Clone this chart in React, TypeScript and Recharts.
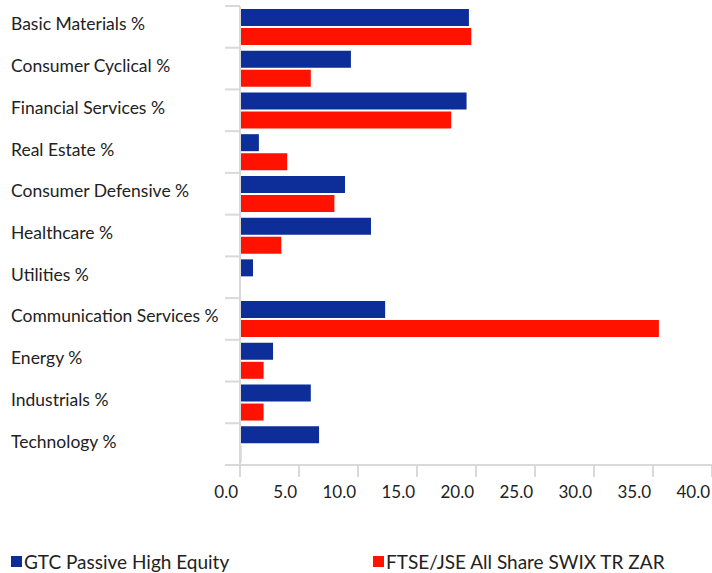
import React from 'react'
import {Bar, BarChart, Legend, XAxis, YAxis} from "recharts";

const sectors = [
  'Basic Materials %', 'Consumer Cyclical %', 'Financial Services %', 'Real Estate %',
  'Consumer Defensive %', 'Healthcare %', 'Utilities %', 'Communication Services %',
  'Energy %', 'Industrials %', 'Technology %',
];
const fundValues = [19.4, 9.4, 19.2, 1.6, 8.9, 11.1, 1.1, 12.3, 2.8, 6.0, 6.7];
const benchValues = [19.6, 6.0, 17.9, 4.0, 8.0, 3.5, 0, 35.5, 2.0, 2.0, 0.1];
const xTicks = [0, 5, 10, 15, 20, 25, 30, 35, 40];

const fundName = 'GTC Passive High Equity';
const benchName = 'FTSE/JSE All Share SWIX TR ZAR';

const data = sectors.map((s, i) => ({name: s, fund: fundValues[i], bench: benchValues[i]}));

const FONT = 'Lato, "Open Sans", sans-serif';
const TEXT = '#222';
const AXIS = '#d9d9d9';
const BLUE = '#0d2d98';
const RED = '#ff1300';

const CategoryTick = (props: any) => {
  const {y, payload, index} = props;
  const half = payload?.offset ?? 20.8;
  return (
    <g>
      <line x1={225} x2={240} y1={y - half} y2={y - half} stroke={AXIS} strokeWidth={2}/>
      {index === sectors.length - 1 && (
        <line x1={225} x2={240} y1={y + half} y2={y + half} stroke={AXIS} strokeWidth={2}/>
      )}
      <text x={11} y={y + 3.5} fill={TEXT} fontSize={17.5} fontFamily={FONT} textAnchor="start">
        {payload.value}
      </text>
    </g>
  );
};

const ValueTick = (props: any) => {
  const {x, y, payload} = props;
  return (
    <text x={x - 2} y={y + 19} fill={TEXT} fontSize={17} fontFamily={FONT} textAnchor="end">
      {Number(payload.value).toFixed(1)}
    </text>
  );
};

const LegendBox = () => (
  <div style={{position: 'relative', height: 22, fontFamily: FONT, fontSize: 19, color: TEXT}}>
    <div style={{position: 'absolute', left: 11, top: 0, display: 'flex', alignItems: 'center', whiteSpace: 'nowrap'}}>
      <span style={{width: 11, height: 11, background: BLUE, display: 'inline-block', marginRight: 2}}/>
      {fundName}
    </div>
    <div style={{position: 'absolute', left: 373, top: 0, display: 'flex', alignItems: 'center', whiteSpace: 'nowrap'}}>
      <span style={{width: 11, height: 11, background: RED, display: 'inline-block', marginRight: 2}}/>
      {benchName}
    </div>
  </div>
);

const App = () => {
  return (
    <div style={{position: 'absolute', left: 0, top: 0, width: 712, height: 573, background: '#fff'}}>
      <BarChart width={712} height={573} data={data} layout="vertical" barSize={17} barGap={2}
                margin={{top: 6, right: 0, left: 0, bottom: 78}}>
        <XAxis type="number" domain={[0, 40]} ticks={xTicks} interval={0} height={30}
               stroke={AXIS} strokeWidth={2} tickSize={12} tick={<ValueTick/>}
               tickLine={{stroke: AXIS, strokeWidth: 2}}/>
        <YAxis type="category" dataKey="name" width={240} interval={0}
               axisLine={{stroke: AXIS, strokeWidth: 2}} tickLine={false} tick={<CategoryTick/>}/>
        <Legend layout="horizontal" verticalAlign="middle" content={<LegendBox/>}
                wrapperStyle={{top: 550, left: 0, width: 712}}/>
        <Bar dataKey="fund" name={fundName} fill={BLUE} isAnimationActive={false}/>
        <Bar dataKey="bench" name={benchName} fill={RED} isAnimationActive={false}/>
      </BarChart>
    </div>
  );
}

export default App
